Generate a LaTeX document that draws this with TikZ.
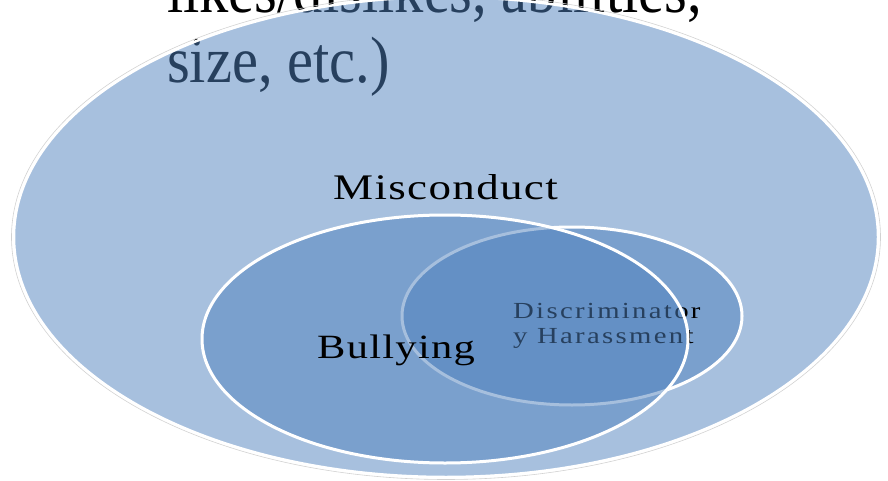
\documentclass[tikz,border=0pt]{standalone}
\usepackage{graphicx}
\usepackage{fontspec}
\setmainfont{Liberation Serif}
\newfontfamily\labelfont[LetterSpace=3]{Liberation Serif}
\newfontfamily\smalllabelfont[LetterSpace=8]{Liberation Serif}
\definecolor{setblue}{HTML}{4F81BD}
\tikzset{
  venn/.style={fill=setblue, fill opacity=0.5, draw=white, line width=#1},
  venn/.default=3pt,
  txt/.style={anchor=base west, inner sep=0pt, text=black},
}

\begin{document}
\begin{tikzpicture}[x=1pt,y=1pt]
		%%%%% START %%%%%
		\useasboundingbox (0,0) rectangle (888,480);
		\clip (0,0) rectangle (888,480);
		
		% text behind the outer set
		\node[txt] (likes) at (167,467) {\fontsize{58.5}{64}\selectfont\scalebox{1}[1.12]{likes/dislikes, abilities,}};
		\node[txt] (size) at (167,397) {\fontsize{58.5}{64}\selectfont\scalebox{1}[1.12]{size, etc.)}};
		
		% outer set
		\draw[gray!35, line width=0.6pt] (446,243) ellipse (434.5pt and 242.5pt);
		\draw[venn=2.5pt] (446,243) ellipse (432pt and 240pt);
		\node[txt] (misconduct) at (333,281) {\labelfont\fontsize{36}{40}\selectfont\scalebox{1.25}[1]{Misconduct}};
		
		% discrimination set
		\draw[venn] (572,164) ellipse (170pt and 89pt);
		\node[txt] (discline) at (513,162) {\smalllabelfont\fontsize{23}{25}\selectfont\scalebox{1.25}[1]{Discriminator}};
		\node[txt] (harassline) at (513,137) {\smalllabelfont\fontsize{23}{25}\selectfont\scalebox{1.25}[1]{y Harassment}};
		
		% bullying set
		\draw[venn] (445,141) ellipse (243pt and 124pt);
		\node[txt] (bullying) at (317,122) {\labelfont\fontsize{34}{38}\selectfont\scalebox{1.25}[1]{Bullying}};
		%%%%% END %%%%%
\end{tikzpicture}
\end{document}
